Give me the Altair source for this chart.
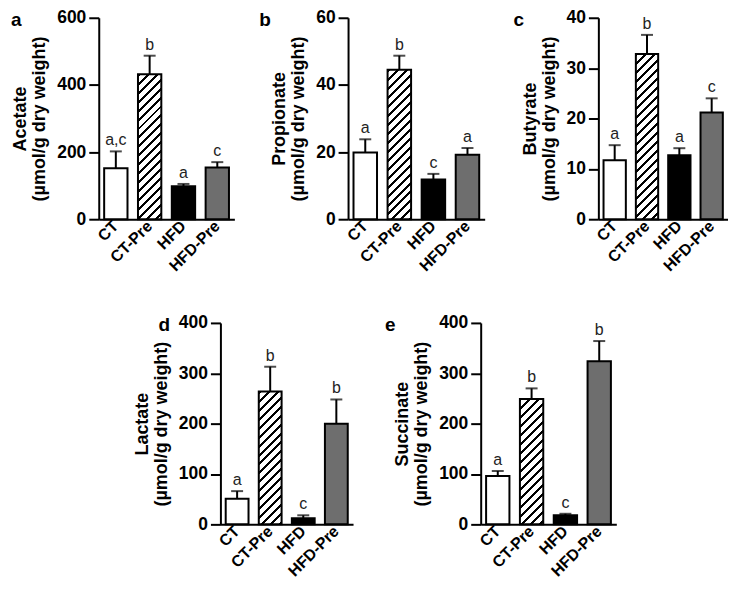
import altair as alt
import pandas as pd

groups = ["CT", "CT-Pre", "HFD", "HFD-Pre"]

acetate = [152, 432, 98, 154]
acetate_err = [50, 55, 7, 16]
acetate_sig = ["a,c", "b", "a", "c"]

propionate = [19.9, 44.5, 11.8, 19.2]
propionate_err = [3.9, 4.2, 1.7, 2.0]
propionate_sig = ["a", "b", "c", "a"]

butyrate = [11.7, 32.8, 12.7, 21.2]
butyrate_err = [3.0, 3.8, 1.4, 2.8]
butyrate_sig = ["a", "b", "a", "c"]

lactate = [51, 264, 12, 200]
lactate_err = [15, 49, 6, 48]
lactate_sig = ["a", "b", "c", "b"]

succinate = [96, 249, 18, 324]
succinate_err = [10, 21, 3, 40]
succinate_sig = ["a", "b", "c", "b"]

unit = "(µmol/g dry weight)"
FONT = "Liberation Sans"
H = 202
P_IN, P_OUT = 0.31, 0.16
fills = ["white", "white", "black", "#6e6e6e"]


def hatch(w, h, period=9.0, line=3.0):
    L = w + h
    c = L / (w * w + h * h)
    stops = []
    pos = 0.0
    while pos < L:
        a = pos / L
        b = min((pos + line) / L, 1.0)
        stops += [
            {"offset": a, "color": "white"},
            {"offset": a, "color": "black"},
            {"offset": b, "color": "black"},
            {"offset": b, "color": "white"},
        ]
        pos += period
    return {"gradient": "linear", "x1": 0, "y1": 0, "x2": c * w, "y2": c * h, "stops": stops}


def panel(name, vals, errs, sigs, ymax, step, letter, ldx, width):
    df = pd.DataFrame({"g": groups, "v": vals, "top": [v + e for v, e in zip(vals, errs)], "sig": sigs})
    bw = width / (4 - P_IN + 2 * P_OUT) * (1 - P_IN)
    hh = vals[1] / ymax * H
    grad = hatch(bw, hh)
    x = alt.X("g:N", sort=groups, scale=alt.Scale(paddingInner=P_IN, paddingOuter=P_OUT),
              axis=alt.Axis(title=None, labelAngle=-45, labelFontSize=16, labelFontWeight="bold",
                            labelFont=FONT, labelColor="black", ticks=False, domainColor="black",
                            domainWidth=2, labelPadding=4))
    yscale = alt.Scale(domain=[0, ymax], nice=False)
    ticks = list(range(0, int(ymax) + 1, step))
    y = alt.Y("v:Q", scale=yscale,
              axis=alt.Axis(title=[name, unit], values=ticks, grid=False, labelFontSize=17.5,
                            labelFontWeight="bold", labelFont=FONT, labelColor="black",
                            titleFont=FONT, titleFontSize=18, titleFontWeight="bold",
                            titleColor="black", titleLineHeight=19, titlePadding=8,
                            domainColor="black", domainWidth=2, tickColor="black",
                            tickWidth=2, tickSize=10, labelPadding=3))
    base = alt.Chart(df)
    bars = base.mark_bar(stroke="black", strokeWidth=2).encode(
        x=x, y=y,
        fill=alt.condition("datum.g == 'CT-Pre'", alt.value(grad),
                           alt.Fill("g:N", scale=alt.Scale(domain=groups, range=fills), legend=None)),
    )
    rule = base.mark_rule(color="black", strokeWidth=2).encode(
        x=alt.X("g:N", sort=groups), y="v:Q", y2="top:Q")
    cap = base.mark_tick(color="black", thickness=2, size=12).encode(
        x=alt.X("g:N", sort=groups), y="top:Q")
    txt = base.mark_text(fontSize=16, font=FONT, color="#222", baseline="bottom", dy=-3).encode(
        x=alt.X("g:N", sort=groups), y="top:Q", text="sig:N")
    lab = alt.Chart(pd.DataFrame({"t": [letter]})).mark_text(
        fontSize=19, fontWeight="bold", font=FONT, color="black", align="left", baseline="alphabetic"
    ).encode(x=alt.value(ldx), y=alt.value(8), text="t:N")
    return alt.layer(rule, bars, cap, txt, lab).properties(width=width, height=H)


def spacer(w):
    return alt.Chart(pd.DataFrame({"t": [0]})).mark_rule(opacity=0).encode(
        x=alt.value(0), y=alt.value(0), y2=alt.value(1)).properties(width=w, height=H)


pa = panel("Acetate", acetate, acetate_err, acetate_sig, 600, 200, "a", -88, 136)
pb = panel("Propionate", propionate, propionate_err, propionate_sig, 60, 20, "b", -89, 137)
pc = panel("Butyrate", butyrate, butyrate_err, butyrate_sig, 40, 10, "c", -85, 130)
pd_ = panel("Lactate", lactate, lactate_err, lactate_sig, 400, 100, "d", -62, 133)
pe = panel("Succinate", succinate, succinate_err, succinate_sig, 400, 100, "e", -96, 136)

top = alt.hconcat(pa, pb, pc, spacing=114, bounds="flush")
bottom = alt.hconcat(spacer(62), pd_, spacer(8), pe, spacing=60, bounds="flush")

chart = alt.vconcat(top, bottom, spacing=40).properties(
    padding={"left": 3, "top": 0, "right": 0, "bottom": 0}
).configure_view(stroke=None)

chart.save("out.html", embed_options={"renderer": "svg", "actions": False})
